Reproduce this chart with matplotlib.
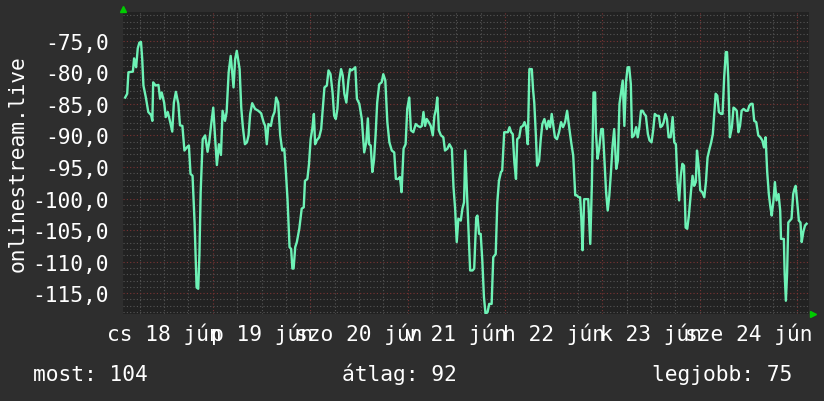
import matplotlib
matplotlib.use("Agg")
import matplotlib.pyplot as plt
from matplotlib.ticker import FixedLocator, FuncFormatter

# hours since cs 18 jún 00:00
hours = [
    2.4, 2.9, 3.2, 4.3, 4.6, 5.1, 5.5, 5.9, 6.3, 6.6, 6.9, 7.5, 8.1, 8.8, 9.1, 9.3,
    9.9, 10.6, 11.0, 11.4, 12.0, 12.4, 12.9, 13.5, 14.0, 14.4, 14.9, 15.5, 15.9, 16.5,
    17.0, 17.6, 18.1, 18.5, 19.0, 19.5, 20.0, 20.4, 20.7, 21.0, 21.5, 22.1, 22.7, 23.1,
    23.6, 24.1, 24.5, 25.0, 25.5, 26.0, 26.4, 27.0, 27.4, 27.9, 28.4, 29.1,
    29.5, 29.9, 30.6, 31.0, 31.4, 31.9, 32.4, 32.8, 33.2, 33.7, 34.4, 35.2, 35.9, 36.5,
    36.9, 37.3, 37.7, 38.3, 38.7, 39.2, 39.6, 40.1, 40.6, 41.1, 41.6, 42.0, 42.4, 42.9,
    43.3, 43.6, 43.9, 44.3, 44.7, 45.3, 45.9, 46.4, 46.7, 47.3, 47.7, 48.1, 48.5, 48.9,
    49.2, 49.6, 50.2, 50.7, 51.1, 51.5, 52.1, 52.5, 53.0, 53.5, 53.9, 54.3, 54.7, 55.1,
    55.6, 56.0, 56.4, 56.9, 57.4, 57.8,
    58.2, 58.8, 59.1, 59.5, 60.1, 60.7, 61.3, 61.8, 62.2, 62.5, 62.9, 63.3, 63.7, 64.1,
    64.5, 65.0, 65.6, 66.0, 66.5, 67.0, 67.5, 68.1, 68.7, 69.1, 69.7, 70.1, 70.5, 71.0,
    71.5, 71.9, 72.4, 72.8, 73.4, 74.0, 74.5, 75.1, 75.5, 75.9, 76.3, 76.7, 77.2, 77.7,
    78.2, 78.6, 79.0, 79.3, 79.7, 80.2, 80.8, 81.2, 81.8, 82.3, 82.9, 83.3, 83.7, 84.1,
    84.5, 85.1, 85.5, 85.9, 86.2,
    86.6, 87.0, 87.4, 88.0, 88.4, 88.9, 89.2, 89.6, 90.0, 90.4, 90.8, 91.2, 91.7, 92.1,
    92.7, 93.1, 93.7, 94.1, 94.5, 95.0, 95.3, 95.8, 96.2, 96.7, 97.1, 97.5, 97.9, 98.3,
    98.7, 99.0, 99.5, 99.9, 100.4, 100.8, 101.2, 101.6, 102.0, 102.6, 102.9, 103.2,
    103.6, 103.9, 104.4, 104.8, 105.2, 105.7, 106.3, 106.7, 107.1, 107.5, 107.9, 108.3,
    108.8, 109.3, 109.8, 110.3, 110.8, 111.3, 111.8, 112.3, 112.8, 113.3, 113.7, 114.1,
    114.5, 114.8, 115.1, 115.5, 116.0, 116.5, 117.0, 117.4, 117.8, 118.2, 118.4, 118.8,
    119.2, 119.7, 120.1, 120.5, 120.9, 121.3, 121.7, 122.1, 122.5, 122.9, 123.4, 123.8,
    124.2, 124.6, 125.0, 125.4, 125.8, 126.2, 126.6, 127.0, 127.3, 127.8, 128.3, 128.7,
    129.1, 129.5, 129.9, 130.3, 130.7, 131.2, 131.6, 132.1, 132.5, 132.9, 133.4, 133.9,
    134.3, 134.7, 135.1, 135.5, 135.9, 136.3, 136.8, 137.3, 137.7, 138.1, 138.5, 138.9,
    139.3, 139.7, 140.1, 140.5, 140.9, 141.3, 141.8, 142.2, 142.6, 143.0, 143.3, 143.7,
    144.1, 144.6, 145.1, 145.5, 145.9, 146.4, 146.8, 147.2, 147.5, 147.9, 148.3, 148.7,
    149.2, 149.6, 150.0, 150.4, 150.7, 151.0, 151.4, 151.9, 152.3, 152.7, 153.1, 153.5,
    153.9, 154.3, 154.8, 155.3, 155.8, 156.2, 156.6, 157.0, 157.4, 157.9, 158.4, 158.9,
    159.4, 159.8, 160.2, 160.6, 161.0, 161.4, 161.7, 162.1, 162.5, 162.9, 163.4, 163.8,
    164.0, 164.3, 164.7, 164.9, 165.2, 165.5, 165.8, 166.2, 166.6, 167.0, 167.3, 167.6,
    168.0, 168.4, 168.8, 169.1, 169.5, 169.9, 170.3,
]

signal = [
    -84.0, -83.4, -80.0, -79.9, -77.8, -79.2, -76.2, -75.3, -75.2, -77.9, -82.1, -84.0, -86.3, -86.8, -87.7, -81.6,
    -82.1, -82.0, -84.2, -83.2, -84.8, -87.1, -86.3, -87.9, -89.4, -84.8, -83.1, -85.0, -88.4, -88.5,
    -92.4, -91.9, -91.6, -96.1, -96.4, -103.8, -114.1, -114.3, -108.8, -99.0, -90.6, -90.0, -92.6, -91.1,
    -88.2, -85.6, -89.8, -94.7, -91.4, -93.1, -86.1, -87.7, -86.3, -80.0, -77.4, -82.4,
    -77.9, -76.6, -79.5, -85.6, -88.7, -91.4, -91.1, -90.0, -86.6, -84.9, -85.8, -86.1, -86.5, -87.9,
    -88.5, -91.4, -88.2, -88.5, -87.1, -86.3, -84.0, -84.8, -90.0, -92.4, -92.1, -95.8, -100.1, -107.7,
    -108.0, -111.1, -111.1, -107.7, -106.9, -104.8, -101.6, -101.4, -97.2, -96.9, -94.5, -90.6, -89.0, -86.6,
    -91.4, -90.8, -90.3, -89.0, -85.8, -82.4, -82.1, -79.7, -80.3, -83.2, -86.9, -87.4, -85.8, -81.6,
    -79.5, -80.5, -83.4, -84.8, -81.3, -79.5,
    -79.7, -79.4, -79.2, -84.2, -85.0, -87.4, -92.7, -91.1, -87.3, -91.4, -91.6, -95.8, -94.0, -90.0,
    -84.8, -81.9, -81.6, -80.3, -81.3, -87.9, -91.1, -92.4, -92.7, -96.9, -96.9, -96.6, -99.0, -92.1,
    -91.4, -85.8, -84.0, -89.2, -89.5, -88.2, -88.5, -88.7, -88.5, -86.3, -88.5, -87.4, -87.9, -88.5,
    -90.0, -86.9, -85.8, -84.0, -89.2, -90.0, -90.3, -92.4, -92.1, -91.4, -92.1, -98.2, -101.6, -106.9,
    -103.2, -103.5, -101.6, -100.6, -92.4,
    -98.7, -104.8, -111.4, -111.4, -111.1, -103.0, -102.7, -105.6, -105.6, -109.8, -115.6, -118.3, -118.0, -116.7,
    -116.7, -109.3, -108.8, -100.6, -97.2, -95.8, -95.6, -89.5, -89.5, -89.5, -88.7, -89.5, -89.8, -94.3,
    -96.9, -90.6, -90.3, -88.7, -88.5, -87.9, -88.7, -91.4, -79.5, -79.5, -82.7, -84.8,
    -90.0, -94.8, -94.0, -90.6, -88.2, -87.4, -89.0, -87.7, -88.7, -86.6, -88.5, -90.3,
    -90.6, -89.5, -87.9, -88.7, -87.9, -86.1, -88.7, -91.1, -93.2, -99.5, -99.5, -99.8,
    -99.8, -103.2, -108.2, -100.1, -100.1, -100.1, -107.2, -97.7, -83.2, -83.2, -89.5, -93.7,
    -92.1, -89.0, -89.0, -94.0, -99.0, -101.9, -99.5, -95.8, -91.6, -89.0, -95.3, -94.0,
    -85.0, -83.2, -81.3, -88.5, -81.6, -79.2, -79.2, -81.9, -90.3, -90.0, -88.7, -90.3,
    -88.7, -86.1, -86.1, -86.6, -86.9, -89.8, -90.8, -91.1, -89.2, -86.6, -86.9, -86.9,
    -88.7, -88.5, -87.9, -86.6, -87.4, -90.3, -90.3, -87.1, -91.1, -91.4, -97.4, -100.3,
    -96.4, -94.5, -94.8, -104.6, -104.8, -102.7, -99.0, -96.4, -98.0, -97.4, -92.4, -94.8,
    -98.7, -99.0, -99.8, -97.4, -93.5, -92.1, -91.1, -89.8, -87.1, -83.4, -83.7, -86.3,
    -86.6, -86.6, -80.8, -76.8, -76.8, -80.8, -90.3, -88.7, -85.6, -85.8, -86.1, -89.5,
    -88.5, -86.1, -85.8, -86.1, -86.1, -85.3, -85.0, -85.0, -87.7, -87.9, -90.0, -90.3,
    -90.8, -91.9, -90.3, -95.8, -99.3, -101.4, -102.7, -100.6, -97.4, -100.3, -99.3, -101.9,
    -106.4, -106.4, -106.4, -111.9, -116.2, -111.9, -103.8, -103.5, -103.2, -99.3, -98.5, -98.0,
    -100.6, -103.5, -103.8, -106.9, -105.3, -104.3, -104.0,
]

day_labels = ["cs 18 jún", "p 19 jún", "szo 20 jún", "v 21 jún",
              "h 22 jún", "k 23 jún", "sze 24 jún"]
y_ticks = [-115, -110, -105, -100, -95, -90, -85, -80, -75]
legend_texts = ["most: 104", "átlag: 92", "legjobb: 75"]

bg = "#2e2e2e"
plot_bg = "#222222"
line_col = "#6ef2b6"
font = "DejaVu Sans Mono"
fs = 15.3

fig = plt.figure(figsize=(8.24, 4.02), dpi=100, facecolor=bg)
ax = fig.add_axes([0.1493, 0.2164, 0.8325, 0.7505])
ax.set_facecolor(plot_bg)

ax.set_xlim(1.87, 170.9)
ax.set_ylim(-118.3, -70.5)

# grid: gray every 6 h / 1 unit, red every day / 5 units
for h in range(6, 171, 6):
    c = "#7a3434" if h % 24 == 0 else "#555555"
    ax.axvline(h, color=c, lw=0.8, ls=(0, (1, 2)), zorder=1)
for v in range(-118, -70):
    c = "#7a3434" if v % 5 == 0 else "#555555"
    ax.axhline(v, color=c, lw=0.8, ls=(0, (1, 2)), zorder=1)

ax.plot(hours, signal, color=line_col, lw=1.7, zorder=3)

ax.yaxis.set_major_locator(FixedLocator(y_ticks))
ax.yaxis.set_major_formatter(FuncFormatter(lambda v, p: f"{v:.1f}".replace(".", ",")))
ax.set_xticks([12 + 24 * i for i in range(len(day_labels))])
ax.set_xticklabels(day_labels)
ax.tick_params(axis="y", length=0, pad=10, labelsize=fs, labelcolor="white")
ax.tick_params(axis="x", length=0, pad=6, labelsize=fs, labelcolor="white")
for lab in ax.get_xticklabels() + ax.get_yticklabels():
    lab.set_fontfamily(font)

for s in ax.spines.values():
    s.set_visible(False)

# axis arrows
ax.plot([0], [1.012], marker="^", color="#00cc00", ms=4, transform=ax.transAxes, clip_on=False)
ax.plot([1.006], [0], marker=">", color="#00cc00", ms=4, transform=ax.transAxes, clip_on=False)

fig.text(0.021, 0.592, "onlinestream.live", rotation=90, color="white",
         fontsize=fs, family=font, ha="center", va="center")

for txt, xpos in zip(legend_texts, [33, 342, 652]):
    fig.text(xpos / 824, 1 - 381 / 402, txt, color="white", fontsize=fs,
             family=font, ha="left", va="baseline")

fig.savefig("out.png", dpi=100, facecolor=bg)
